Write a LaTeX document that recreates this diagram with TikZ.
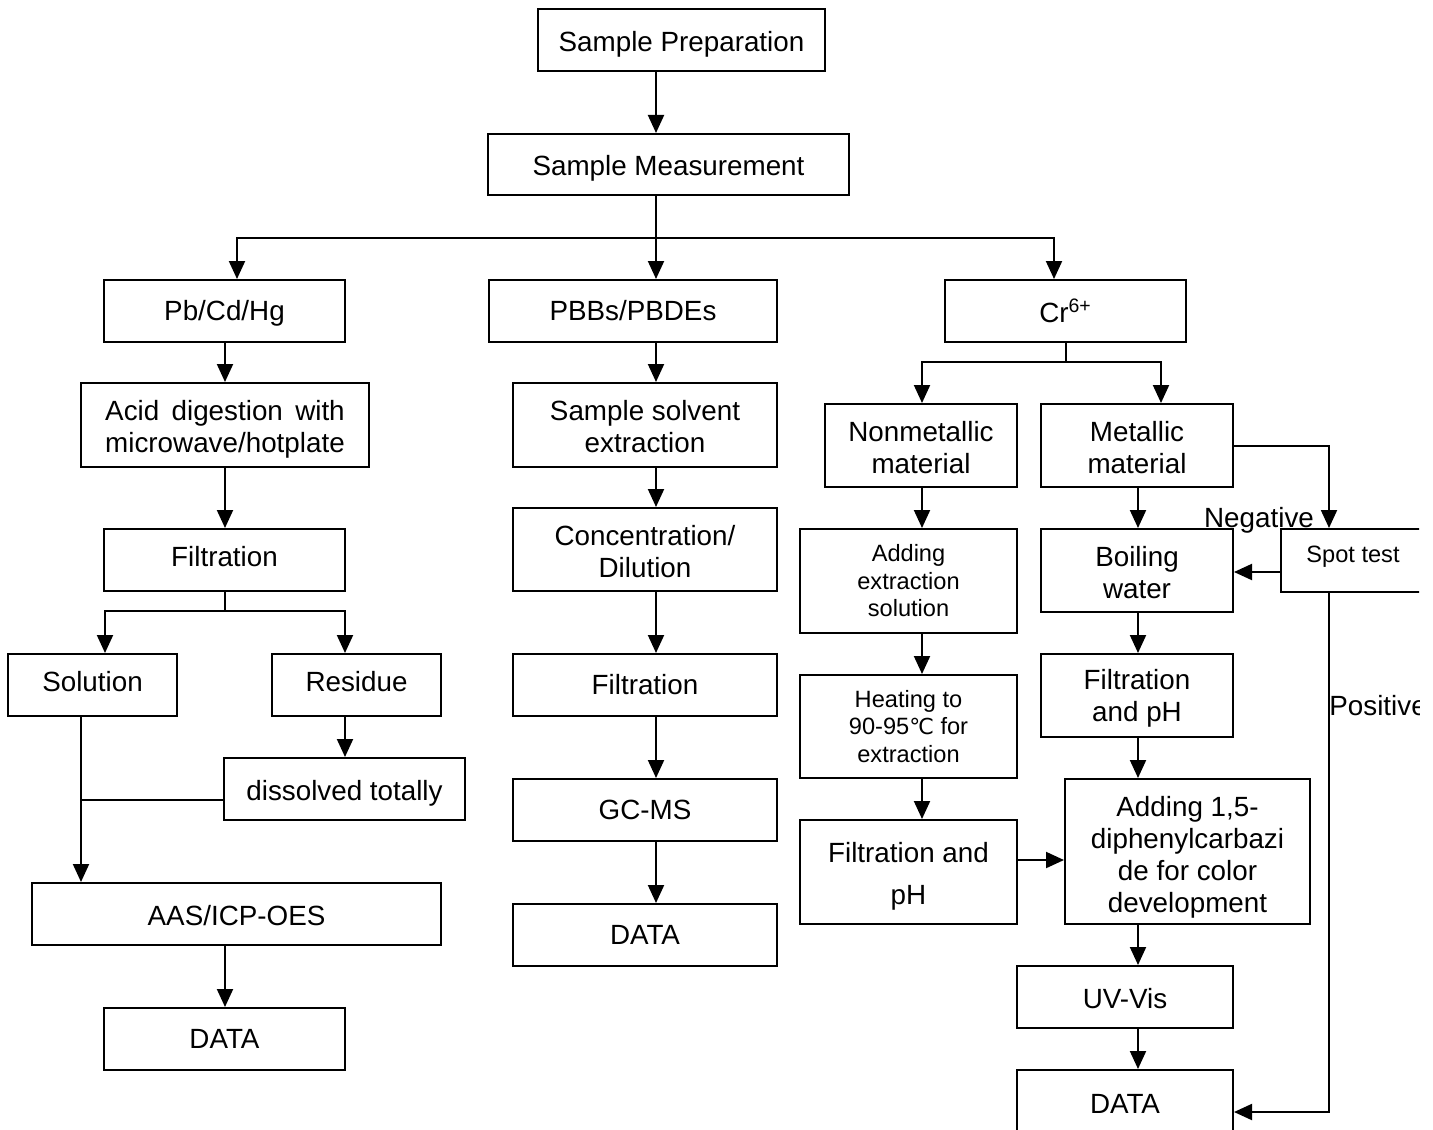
\documentclass[tikz,border=0pt]{standalone}
\usepackage{fontspec}
\usepackage{calc}
\setmainfont{Liberation Sans}
\newfontfamily\djv{DejaVu Sans}
\usetikzlibrary{arrows.meta}
\newcommand\dn[1]{\rule{0pt}{#1}}
\newcommand\up[1]{\rule[-#1]{0pt}{#1}}
\tikzset{
  bx/.style={draw, line width=1pt, inner sep=0pt, align=center,
    font=\fontsize{13.9}{16}\selectfont},
  sbx/.style={bx, font=\fontsize{11.8}{13.75}\selectfont},
  arr/.style={line width=1pt, -{Triangle[length=9pt,width=8pt]}},
  ln/.style={line width=1pt},
  lbl/.style={inner sep=0pt, font=\fontsize{13.9}{16}\selectfont},
}
\begin{document}
\begin{tikzpicture}[x=0.5pt,y=-0.5pt]
\useasboundingbox (0,0) rectangle (1433,1129);
\clip (0,0) rectangle (1419,1129);
% column coordinates
\coordinate (xA) at (656,0);
\coordinate (xB) at (225,0);
\coordinate (xL) at (237,0);
\coordinate (xR) at (1054,0);
\coordinate (xC) at (1138,0);
\coordinate (xD) at (922,0);
\coordinate (xM) at (1161,0);
\coordinate (xE) at (1329,0);
\coordinate (xF) at (81,0);
\coordinate (xG) at (105,0);
\coordinate (xH) at (345,0);
\coordinate (yJ) at (0,800);
\coordinate (yK) at (0,446);
\coordinate (yN) at (0,572);
\coordinate (yP) at (0,860);
\coordinate (yQ) at (0,1112);
\coordinate (yS) at (0,362);
% nodes
\node[bx, minimum width=143.5pt, minimum height=31pt] (prep) at (681.5,40) {\dn{14.1pt}Sample Preparation};
\node[bx, minimum width=180.5pt, minimum height=30.5pt] (meas) at (668.5,164.5) {\dn{14.1pt}Sample Measurement};
\node[bx, minimum width=120.5pt, minimum height=31pt] (pb) at (224.5,311) {\dn{12.1pt}Pb/Cd/Hg};
\node[bx, minimum width=144pt, minimum height=31pt] (pbb) at (633,311) {PBBs/PBDEs};
\node[bx, minimum width=120.5pt, minimum height=31pt] (cr) at (1065.5,311) {Cr\textsuperscript{6+}};
\node[bx, minimum width=144pt, minimum height=42pt] (acid) at (225,425) {\dn{14.1pt}\makebox[\widthof{microwave/hotplate}][s]{Acid digestion with}\\microwave/hotplate};
\node[bx, minimum width=120.5pt, minimum height=31pt] (filt1) at (224.5,560) {Filtration\up{4pt}};
\node[bx, minimum width=84.5pt, minimum height=31pt] (sol) at (92.5,685) {Solution\up{4pt}};
\node[bx, minimum width=84.5pt, minimum height=31pt] (res) at (356.5,685) {Residue\up{4pt}};
\node[bx, minimum width=120.5pt, minimum height=31pt] (diss) at (344.5,789) {\dn{14.1pt}dissolved totally};
\node[bx, minimum width=204.5pt, minimum height=31pt] (aas) at (236.5,914) {\dn{12.1pt}AAS/ICP-OES};
\node[bx, minimum width=120.5pt, minimum height=31pt] (data1) at (224.5,1039) {DATA};
\node[bx, minimum width=132pt, minimum height=42pt] (sse) at (645,425) {\dn{12.1pt}Sample solvent\\extraction};
\node[bx, minimum width=132pt, minimum height=41.5pt] (conc) at (645,549.5) {\dn{12.1pt}Concentration/\\Dilution};
\node[bx, minimum width=132pt, minimum height=31pt] (filt2) at (645,685) {Filtration};
\node[bx, minimum width=132pt, minimum height=31pt] (gcms) at (645,810) {GC-MS};
\node[bx, minimum width=132pt, minimum height=31pt] (data2) at (645,935) {DATA};
\node[bx, minimum width=96pt, minimum height=41.5pt] (nonm) at (921,445.5) {\dn{12.1pt}Nonmetallic\\material};
\node[bx, minimum width=96pt, minimum height=41.5pt] (metal) at (1137,445.5) {\dn{12.1pt}Metallic\\material};
\node[sbx, minimum width=108.5pt, minimum height=52pt] (addex) at (908.5,581) {Adding\\extraction\\solution};
\node[sbx, minimum width=108.5pt, minimum height=51.5pt] (heat) at (908.5,726.5) {Heating to\\90-95{\djv\fontsize{11}{13.75}\selectfont ℃} for\\extraction};
\node[bx, minimum width=108.5pt, minimum height=52pt, font=\fontsize{13.9}{21}\selectfont] (filtph1) at (908.5,872) {\dn{14.1pt}Filtration and\\pH};
\node[bx, minimum width=96pt, minimum height=41.5pt] (boil) at (1137,570.5) {\dn{12.1pt}Boiling\\water};
\node[sbx, minimum width=72pt, minimum height=31.5pt] (spot) at (1353,560.5) {Spot test\up{6.5pt}};
\node[bx, minimum width=96pt, minimum height=41.5pt] (filtph2) at (1137,695.5) {\dn{13.1pt}Filtration\\and pH};
\node[bx, minimum width=122.5pt, minimum height=72.5pt] (dpc) at (1187.5,851.5) {\dn{16.1pt}Adding 1,5-\\diphenylcarbazi\\de for color\\development};
\node[bx, minimum width=108pt, minimum height=31pt] (uv) at (1125,997) {\dn{12.1pt}UV-Vis};
\node[bx, minimum width=108pt, minimum height=31pt] (data3) at (1125,1101) {\dn{12.1pt}DATA};
\node[lbl, anchor=base] (neg) at (1259,527) {Negative};
\node[lbl, anchor=base west] (pos) at (1329,715) {Positive};
% top connectors
\coordinate (top) at (656,238);
\draw[arr] (prep.south -| xA) -- (meas.north -| xA);
\draw[arr] (meas.south -| xA) -- (pbb.north -| xA);
\draw[arr] (top) -| (pb.north -| xL);
\draw[arr] (top) -| (cr.north -| xR);
% left column
\coordinate (sp1) at (225,611);
\draw[arr] (pb.south -| xB) -- (acid.north -| xB);
\draw[arr] (acid.south -| xB) -- (filt1.north -| xB);
\draw[ln] (filt1.south -| xB) -- (sp1);
\draw[arr] (sp1) -| (sol.north -| xG);
\draw[arr] (sp1) -| (res.north -| xH);
\draw[arr] (res.south -| xH) -- (diss.north -| xH);
\draw[arr] (sol.south -| xF) -- (aas.north -| xF);
\draw[ln] (diss.west |- yJ) -- (xF |- yJ);
\draw[arr] (aas.south -| xB) -- (data1.north -| xB);
% middle column
\draw[arr] (pbb.south -| xA) -- (sse.north -| xA);
\draw[arr] (sse.south -| xA) -- (conc.north -| xA);
\draw[arr] (conc.south -| xA) -- (filt2.north -| xA);
\draw[arr] (filt2.south -| xA) -- (gcms.north -| xA);
\draw[arr] (gcms.south -| xA) -- (data2.north -| xA);
% right column
\coordinate (sp2) at (cr.south |- yS);
\draw[ln] (cr.south) -- (sp2);
\draw[arr] (sp2) -| (nonm.north -| xD);
\draw[arr] (sp2) -| (metal.north -| xM);
\draw[arr] (nonm.south -| xD) -- (addex.north -| xD);
\draw[arr] (addex.south -| xD) -- (heat.north -| xD);
\draw[arr] (heat.south -| xD) -- (filtph1.north -| xD);
\draw[arr] (metal.south -| xC) -- (boil.north -| xC);
\draw[arr] (metal.east |- yK) -| (spot.north -| xE);
\draw[arr] (spot.west |- yN) -- (boil.east |- yN);
\draw[arr] (boil.south -| xC) -- (filtph2.north -| xC);
\draw[arr] (filtph2.south -| xC) -- (dpc.north -| xC);
\draw[arr] (filtph1.east |- yP) -- (dpc.west |- yP);
\draw[arr] (dpc.south -| xC) -- (uv.north -| xC);
\draw[arr] (uv.south -| xC) -- (data3.north -| xC);
\draw[arr] (spot.south -| xE) |- (data3.east |- yQ);
\end{tikzpicture}
\end{document}
